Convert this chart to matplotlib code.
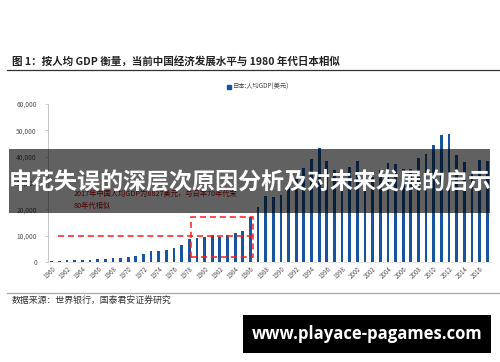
import matplotlib
matplotlib.use("Agg")
import matplotlib.pyplot as plt
from matplotlib.patches import Rectangle
from matplotlib.lines import Line2D

plt.rcParams['font.family'] = ['Noto Sans CJK SC', 'DejaVu Sans']

years = list(range(1960, 2018))
gdp_pc = [479, 564, 633, 718, 836, 919, 1058, 1229, 1450, 1669,
          2037, 2272, 2967, 3997, 4354, 4659, 5197, 6335, 8821, 9105,
          9463, 10361, 9578, 10425, 10984, 11585, 17112, 20745, 25052, 24813,
          25359, 28925, 31465, 35766, 39269, 43440, 38437, 35022, 31903, 36027,
          38532, 33846, 32289, 34808, 37689, 37218, 35434, 35275, 39339, 40855,
          44508, 48168, 48603, 40454, 38109, 34524, 38794, 38332]
yticks = [0, 10000, 20000, 30000, 40000, 50000, 60000]
xticks = list(range(1960, 2017, 2))

title = "图 1：按人均 GDP 衡量，当前中国经济发展水平与 1980 年代日本相似"
legend_label = "日本:人均GDP(美元)"
source = "数据来源：世界银行，国泰君安证券研究"
note1 = "2017年中国人均GDP为8827美元，与日本70年代末"
note2 = "80年代相似"
overlay_text = "申花失误的深层次原因分析及对未来发展的启示"
watermark = "www.playace-pagames.com"

# red marker positions (data coords)
hline_y = 9800
hline_x = (1960.8, 1986.3)
box_x = (1978.2, 1986.3)
box_y = (1900, 17100)

W, H = 500, 362
fig = plt.figure(figsize=(5, 3.62), dpi=100)
fig.patch.set_facecolor('white')

def fx(px):
    return px / W

def fy(py):
    return 1 - py / H

ax = fig.add_axes([fx(48), fy(262), fx(491) - fx(48), fy(104) - fy(262)])
bar_color = '#18559E'
ax.bar(years, gdp_pc, width=0.36, color=bar_color, label=legend_label, zorder=2)
ax.set_xlim(1959.5, 2017.5)
ax.set_ylim(0, 60000)
ax.set_yticks(yticks)
ax.set_yticklabels([f"{v:,}" for v in yticks], fontsize=4.8, color='#555555')
ax.set_xticks(xticks)
ax.set_xticklabels([str(x) for x in xticks], fontsize=4.5, color='#555555',
                   rotation=45, ha='right', rotation_mode='anchor')
for s in ['top', 'right']:
    ax.spines[s].set_visible(False)
ax.spines['left'].set_color('#bbbbbb')
ax.spines['left'].set_linewidth(0.6)
ax.spines['bottom'].set_color('#dddddd')
ax.spines['bottom'].set_linewidth(0.5)
ax.tick_params(axis='y', length=2, width=0.5, color='#bbbbbb', pad=6)
ax.tick_params(axis='x', length=0, pad=2)

# red dashed annotations
ax.plot(hline_x, [hline_y, hline_y], color='#FF1A1A', lw=1.1, ls=(0, (4, 2.5)), zorder=3)
ax.add_patch(Rectangle((box_x[0], box_y[0]), box_x[1] - box_x[0], box_y[1] - box_y[0],
                       fill=False, edgecolor='#FF1A1A', lw=1.1, ls=(0, (4, 2.5)), zorder=3))
fig.text(fx(74), fy(194), note1, fontsize=5.2, color='#C00000', va='center', ha='left')
fig.text(fx(74), fy(206), note2, fontsize=5.2, color='#C00000', va='center', ha='left')

# legend
handle = Rectangle((0, 0), 1, 1, color=bar_color)
fig.legend([handle], [legend_label], loc='center', bbox_to_anchor=(fx(258), fy(87)),
           frameon=False, fontsize=4.5, handlelength=0.6, handleheight=0.6,
           handletextpad=0.3, labelcolor='#444444')

# title and rules
fig.text(fx(12), fy(62), title, fontsize=7.6, fontweight='bold', color='#222222',
         va='center', ha='left')
fig.add_artist(Line2D([fx(7), fx(500)], [fy(70), fy(70)], color='#333333', lw=0.9))
fig.add_artist(Line2D([fx(7), fx(500)], [fy(293), fy(293)], color='#aaaaaa', lw=0.9))
fig.text(fx(12), fy(300), source, fontsize=6.4, color='#333333', va='center', ha='left')

# dark overlay banner
fig.add_artist(Rectangle((fx(9), fy(213)), fx(490) - fx(9), fy(149) - fy(213),
                         transform=fig.transFigure, facecolor='black', alpha=0.62,
                         edgecolor='none', zorder=10))
fig.text(fx(250), fy(183), overlay_text, fontsize=16.6, fontweight='bold', color='white',
         va='center', ha='center', zorder=11)

# watermark box
fig.add_artist(Rectangle((fx(243), fy(353)), fx(491) - fx(243), fy(315) - fy(353),
                         transform=fig.transFigure, facecolor='black', edgecolor='none',
                         zorder=10))
fig.text(fx(367), fy(334), watermark, fontsize=12, fontweight='bold', color='white',
         family=['Open Sans', 'DejaVu Sans'], va='center', ha='center', zorder=11)

fig.savefig('out.png', dpi=100)
